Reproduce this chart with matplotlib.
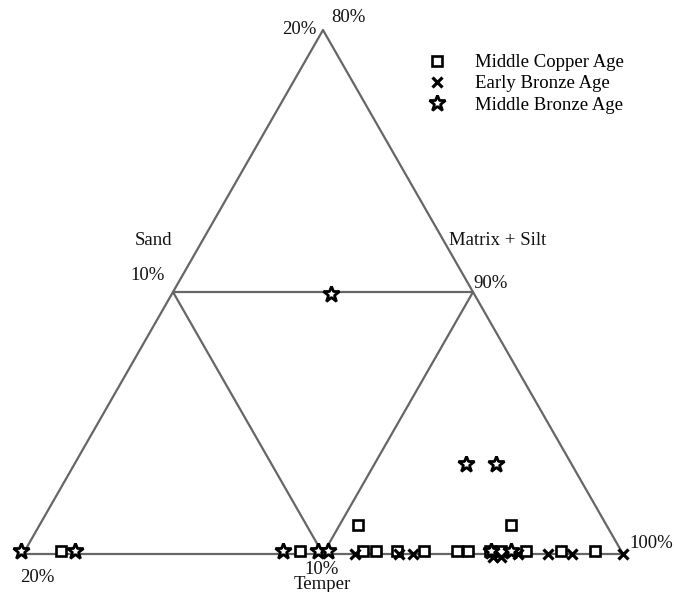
import numpy as np
import matplotlib
matplotlib.use("Agg")
import matplotlib.pyplot as plt
from matplotlib.lines import Line2D

plt.rcParams["font.family"] = ["Liberation Serif", "DejaVu Serif"]

# Ternary composition (%): Temper, Sand; Matrix + Silt = 100 - Temper - Sand
copper_temper = [18.68, 10.71, 8.60, 8.17, 7.47, 6.57, 5.47, 5.10, 4.37, 4.00,
                 3.17, 2.00, 0.87, 8.28, 3.18]
copper_sand = [0.13, 0.13, 0.13, 0.13, 0.13, 0.13, 0.13, 0.13, 0.13, 0.13,
               0.13, 0.13, 0.13, 1.10, 1.10]

early_temper = [8.93, 7.47, 6.99, 4.38, 4.12, 3.49, 2.49, 1.71, 0.0]
early_sand = [0.0, 0.0, 0.0, -0.1, -0.1, 0.0, 0.0, 0.0, 0.0]

middle_temper = [20.0, 18.19, 11.27, 10.10, 9.77, 4.33, 3.67, 3.52, 2.52, 4.77]
middle_sand = [0.13, 0.13, 0.13, 0.13, 0.13, 0.13, 0.13, 3.45, 3.45, 9.92]

series_labels = ["Middle Copper Age", "Early Bronze Age", "Middle Bronze Age"]

SPAN = 20.0  # the diagram covers 0-20 % Temper and Sand
H = np.sqrt(3) / 2
FS = 13.5


def to_xy(temper, sand):
    t = np.asarray(temper, float)
    s = np.asarray(sand, float)
    x = 1 - t / SPAN - s / (2 * SPAN)
    y = s / SPAN * H
    return x, y


W, Hpx = 674, 592
fig = plt.figure(figsize=(W / 100, Hpx / 100), dpi=100)
ax = fig.add_axes([23 / W, (Hpx - 554) / Hpx, 600 / W, 524 / Hpx])
ax.set_xlim(0, 1)
ax.set_ylim(0, H)
ax.axis("off")

# triangle outline and inner sub-triangle
line_kw = dict(color="#666666", lw=1.6, solid_capstyle="round", clip_on=False, zorder=1)
outer = [(20, 0), (0, 0), (0, 20), (20, 0)]
ox, oy = to_xy([p[0] for p in outer], [p[1] for p in outer])
ax.plot(ox, oy, **line_kw)
inner = [(10, 10), (0, 10), (10, 0), (10, 10)]
ix, iy = to_xy([p[0] for p in inner], [p[1] for p in inner])
ax.plot(ix, iy, **line_kw)

sq_kw = dict(ls="none", marker="s", ms=7.5, mfc="white", mec="black", mew=1.9)
x_kw = dict(ls="none", marker="x", ms=6.5, mec="black", mew=2.3)
st_kw = dict(ls="none", marker="*", ms=12, mfc="white", mec="black", mew=2.0)

cx, cy = to_xy(copper_temper, copper_sand)
ax.plot(cx, cy, clip_on=False, zorder=3, **sq_kw)
ex, ey = to_xy(early_temper, early_sand)
ax.plot(ex, ey, clip_on=False, zorder=4, **x_kw)
mx, my = to_xy(middle_temper, middle_sand)
ax.plot(mx, my, clip_on=False, zorder=5, **st_kw)

handles = [Line2D([], [], **sq_kw), Line2D([], [], **x_kw), Line2D([], [], **st_kw)]
fig.legend(handles, series_labels, loc="upper left", bbox_to_anchor=(428 / W, 1 - 54 / Hpx),
           frameon=False, fontsize=FS, handlelength=1.0, handletextpad=1.5,
           labelspacing=0.22, borderpad=0, borderaxespad=0)


def label(px, py, s, ha="center", **kw):
    fig.text(px / W, 1 - py / Hpx, s, ha=ha, va="center", fontsize=FS,
             color="#111111", **kw)


label(299, 30, "20%")
label(348, 18, "80%")
label(153, 240, "Sand")
label(148, 276, "10%")
label(498, 240, "Matrix + Silt")
label(491, 283, "90%")
label(37, 577, "20%")
label(322, 577, "10%\nTemper", linespacing=0.8)
label(651, 544, "100%")

fig.savefig("out.png", dpi=100, facecolor="white")
